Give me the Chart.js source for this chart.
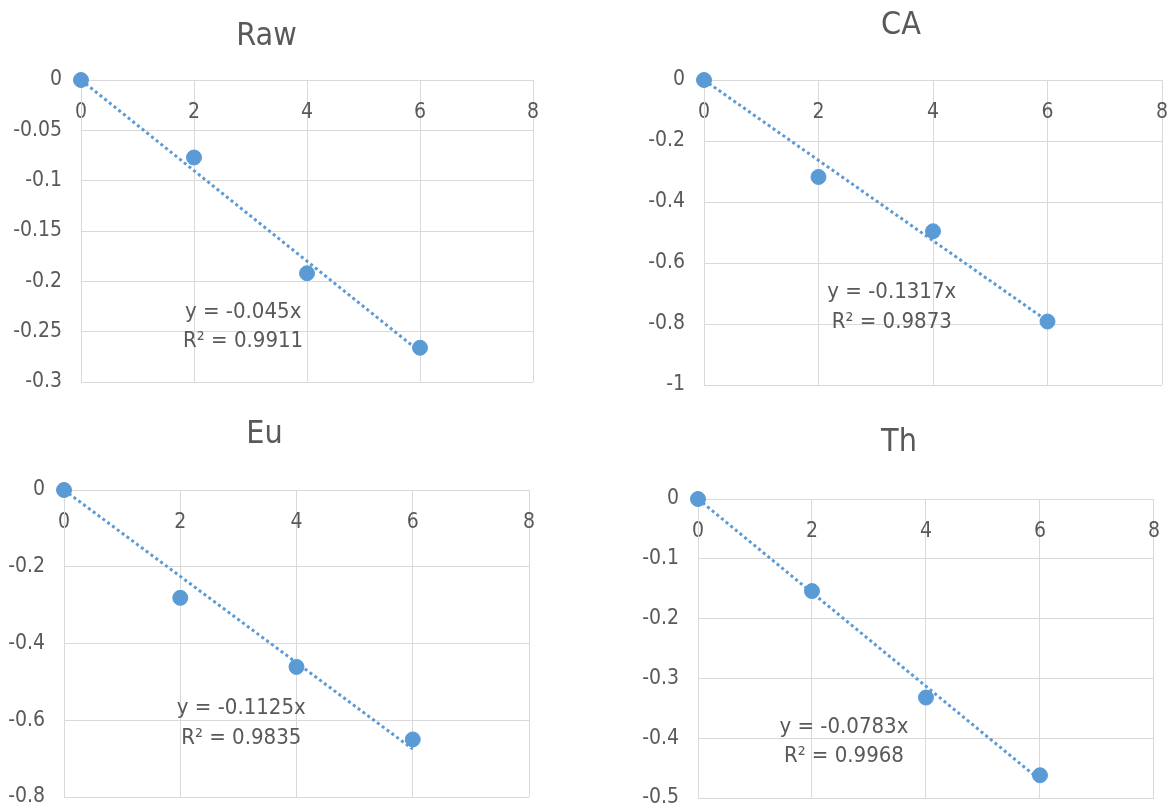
<!DOCTYPE html>
<html>
<head>
<meta charset="utf-8">
<script src="https://cdn.jsdelivr.net/npm/chart.js@4"></script>
<style>
  html, body { margin: 0; padding: 0; background: #fff; overflow: hidden; width: 1170px; height: 811px; }
  .box { position: absolute; }
</style>
</head>
<body>
<div class="box" id="b0"><canvas id="c0"></canvas></div>
<div class="box" id="b1"><canvas id="c1"></canvas></div>
<div class="box" id="b2"><canvas id="c2"></canvas></div>
<div class="box" id="b3"><canvas id="c3"></canvas></div>
<script>
// data
const titles = ['Raw', 'CA', 'Eu', 'Th'];
const xValues = [0, 2, 4, 6];
const rawValues = [0, -0.077, -0.192, -0.266];
const caValues = [0, -0.318, -0.496, -0.792];
const euValues = [0, -0.281, -0.461, -0.650];
const thValues = [0, -0.154, -0.332, -0.462];
const slopes = [-0.045, -0.1317, -0.1125, -0.0783];
const rSquared = ['0.9911', '0.9873', '0.9835', '0.9968'];
const trendRange = [0, 6];
const xTicks = [0, 2, 4, 6, 8];
const rawTicks = [0, -0.05, -0.1, -0.15, -0.2, -0.25, -0.3];
const caTicks = [0, -0.2, -0.4, -0.6, -0.8, -1];
const euTicks = [0, -0.2, -0.4, -0.6, -0.8];
const thTicks = [0, -0.1, -0.2, -0.3, -0.4, -0.5];

const seriesValues = [rawValues, caValues, euValues, thValues];
const yTickSets = [rawTicks, caTicks, euTicks, thTicks];

// where each panel sits on the page; plotBottom is the wanted bottom edge of the plot inside the panel
const panels = [
  { left: 0,   top: 0,   w: 590, h: 405, plotLeft: 81, padR: 57, plotBottom: 382, titleTop: 17.8, titleBottom: 23.8, eq: [2.87, -0.2305, -0.260] },
  { left: 640, top: 0,   w: 550, h: 405, plotLeft: 64, padR: 28, plotBottom: 385, titleTop: 6.8,  titleBottom: 34.8, eq: [3.28, -0.695, -0.793] },
  { left: 0,   top: 405, w: 558, h: 406, plotLeft: 64, padR: 29, plotBottom: 392, titleTop: 10.8, titleBottom: 35.8, eq: [3.05, -0.568, -0.646] },
  { left: 640, top: 405, w: 540, h: 406, plotLeft: 58, padR: 22, plotBottom: 393, titleTop: 18.8, titleBottom: 36.8, eq: [2.56, -0.381, -0.431] }
];

const FONT = "'Liberation Sans Narrow', 'DejaVu Sans Condensed', 'Roboto Condensed', sans-serif";
const TEXT = '#595959';
const GRID = '#D9D9D9';
const BLUE = '#5B9BD5';

Chart.defaults.font.family = FONT;
Chart.defaults.color = TEXT;

// trendline equation, placed in data coordinates
const eqLabel = {
  id: 'eqLabel',
  afterDatasetsDraw(chart, args, opts) {
    const ctx = chart.ctx;
    const xs = chart.scales.x, ys = chart.scales.y;
    const px = xs.getPixelForValue(opts.x);
    ctx.save();
    ctx.font = '22px ' + FONT;
    ctx.fillStyle = TEXT;
    ctx.textAlign = 'center';
    ctx.textBaseline = 'middle';
    ctx.fillText(opts.line1, px, ys.getPixelForValue(opts.y1));
    ctx.fillText(opts.line2, px, ys.getPixelForValue(opts.y2));
    ctx.restore();
  }
};

panels.forEach((p, i) => {
  const box = document.getElementById('b' + i);
  box.style.left = p.left + 'px';
  box.style.top = p.top + 'px';
  box.style.width = p.w + 'px';
  box.style.height = p.h + 'px';

  const ticksY = yTickSets[i];
  const points = xValues.map((x, k) => ({ x: x, y: seriesValues[i][k] }));
  const trend = trendRange.map(x => ({ x: x, y: slopes[i] * x }));

  new Chart(document.getElementById('c' + i), {
    type: 'scatter',
    data: {
      datasets: [
        {
          type: 'line',
          data: trend,
          borderColor: BLUE,
          borderWidth: 3,
          borderDash: [3, 3],
          pointRadius: 0,
          fill: false,
          clip: false,
          order: 0
        },
        {
          data: points,
          backgroundColor: BLUE,
          borderColor: BLUE,
          pointRadius: 7.5,
          clip: false,
          order: 1
        }
      ]
    },
    options: {
      responsive: true,
      maintainAspectRatio: false,
      animation: false,
      layout: { padding: { left: 0, top: 0, right: p.padR, bottom: 0 } },
      plugins: {
        legend: { display: false },
        tooltip: { enabled: false },
        title: {
          display: true,
          text: titles[i],
          color: TEXT,
          font: { size: 32, weight: 'normal', lineHeight: 1.2 },
          padding: { top: p.titleTop, bottom: p.titleBottom }
        },
        eqLabel: {
          x: p.eq[0], y1: p.eq[1], y2: p.eq[2],
          line1: 'y = ' + slopes[i] + 'x',
          line2: 'R\u00B2 = ' + rSquared[i]
        }
      },
      scales: {
        x: {
          type: 'linear',
          position: { y: 0 },
          min: xTicks[0],
          max: xTicks[xTicks.length - 1],
          afterBuildTicks: s => { s.ticks = xTicks.map(v => ({ value: v })); },
          grid: { color: GRID, drawTicks: false },
          border: { color: GRID },
          ticks: { padding: 20, font: { size: 21 }, color: TEXT }
        },
        y: {
          type: 'linear',
          position: 'left',
          min: ticksY[ticksY.length - 1],
          max: ticksY[0],
          afterBuildTicks: s => { s.ticks = ticksY.map(v => ({ value: v })); },
          afterFit: s => { s.width = p.plotLeft; },
          grid: { color: GRID, drawTicks: false },
          border: { color: GRID },
          ticks: {
            padding: 19,
            font: { size: 21 },
            color: TEXT,
            callback: v => String(v)
          }
        }
      }
    },
    plugins: [
      eqLabel,
      {
        // the x axis sits at y=0 but still eats room at the bottom, so pin the plot's bottom edge
        id: 'pinBottom',
        afterLayout(chart) {
          const ys = chart.scales.y;
          chart.chartArea.bottom = p.plotBottom;
          ys.bottom = p.plotBottom;
          ys.height = ys.bottom - ys.top;
          ys.configure();
        }
      }
    ]
  });
});
</script>
</body>
</html>
